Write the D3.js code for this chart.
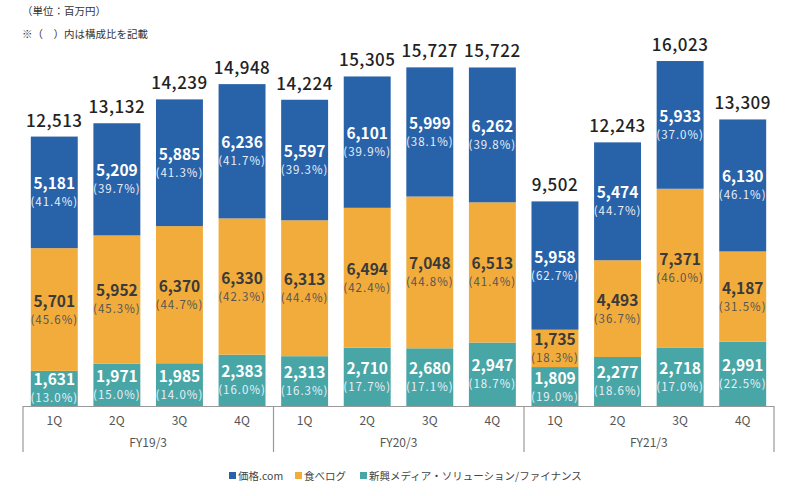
<!DOCTYPE html>
<html><head><meta charset="utf-8">
<script src="https://cdn.jsdelivr.net/npm/d3@7"></script>
<style>
body{margin:0;background:#fff;}
text{font-family:"Noto Sans CJK JP","Noto Sans",sans-serif;}
</style></head>
<body><svg id="c" width="800" height="496"></svg>
<script>
const quarters = ["1Q","2Q","3Q","4Q","1Q","2Q","3Q","4Q","1Q","2Q","3Q","4Q"];
const years = ["FY19/3","FY20/3","FY21/3"];
const kakaku = [5181,5209,5885,6236,5597,6101,5999,6262,5958,5474,5933,6130];
const tabelog = [5701,5952,6370,6330,6313,6494,7048,6513,1735,4493,7371,4187];
const shinko = [1631,1971,1985,2383,2313,2710,2680,2947,1809,2277,2718,2991];
const totals = [12513,13132,14239,14948,14224,15305,15727,15722,9502,12243,16023,13309];
const kakakuPct = ["41.4","39.7","41.3","41.7","39.3","39.9","38.1","39.8","62.7","44.7","37.0","46.1"];
const tabelogPct = ["45.6","45.3","44.7","42.3","44.4","42.4","44.8","41.4","18.3","36.7","46.0","31.5"];
const shinkoPct = ["13.0","15.0","14.0","16.0","16.3","17.7","17.1","18.7","19.0","18.6","17.0","22.5"];
const seriesNames = ["価格.com","食べログ","新興メディア・ソリューション/ファイナンス"];
const colors = ["#2862a8","#f2ac3c","#48a6a6"];

const svg = d3.select("#c");
const idx = d3.range(quarters.length);
const x = d3.scaleBand().domain(idx).range([23,774]).paddingInner(0.25).paddingOuter(0.125);
const y = d3.scaleLinear().domain([0,16023]).range([406,61]);

svg.append("text").attr("x",22).attr("y",15).attr("font-size",10.5).attr("fill","#333").text("（単位：百万円）");
svg.append("text").attr("x",22).attr("y",38).attr("font-size",10.5).attr("fill","#333").text("※（　）内は構成比を記載");

const stackData = idx.map(i=>({i, s:shinko[i], t:tabelog[i], k:kakaku[i]}));
const stack = d3.stack().keys(["s","t","k"])(stackData);
const colorOf = {s:colors[2], t:colors[1], k:colors[0]};
const pctOf = {s:shinkoPct, t:tabelogPct, k:kakakuPct};
const textCol = {s:"#fff", t:"#3a3a3a", k:"#fff"};

stack.forEach(layer=>{
  const key = layer.key;
  const g = svg.append("g");
  g.selectAll("rect").data(layer).join("rect")
    .attr("x",(d,j)=>x(j)).attr("width",x.bandwidth())
    .attr("y",d=>y(d[1])).attr("height",d=>y(d[0])-y(d[1]))
    .attr("fill",colorOf[key]);
  g.selectAll("text.v").data(layer).join("text").attr("class","v")
    .attr("x",(d,j)=>x(j)+x.bandwidth()/2)
    .attr("y",d=>(y(d[0])+y(d[1]))/2 - 3)
    .attr("text-anchor","middle").attr("font-size",15.5).attr("font-weight","bold")
    .attr("fill",textCol[key])
    .text(d=>d3.format(",")(d.data[key]));
  g.selectAll("text.p").data(layer).join("text").attr("class","p")
    .attr("x",(d,j)=>x(j)+x.bandwidth()/2)
    .attr("y",d=>(y(d[0])+y(d[1]))/2 + 14)
    .attr("text-anchor","middle").attr("font-size",11.5).attr("letter-spacing",1)
    .attr("fill",key==="t"?"#555":"#e8eef8")
    .text((d,j)=>"("+pctOf[key][j]+"%)");
});

svg.append("g").selectAll("text").data(idx).join("text")
  .attr("x",i=>x(i)+x.bandwidth()/2).attr("y",i=>y(totals[i])-10)
  .attr("text-anchor","middle").attr("font-size",17).attr("font-weight",500)
  .attr("letter-spacing",0.5).attr("fill","#222")
  .text(i=>d3.format(",")(totals[i]));

// axis box
const ax = svg.append("g").attr("stroke","#999").attr("stroke-width",1.2);
ax.append("line").attr("x1",23).attr("x2",774).attr("y1",406.5).attr("y2",406.5);
[23,273.5,524,774].forEach(px=>ax.append("line").attr("x1",px).attr("x2",px).attr("y1",406).attr("y2",452));

svg.append("g").selectAll("text").data(idx).join("text")
  .attr("x",i=>x(i)+x.bandwidth()/2).attr("y",425)
  .attr("text-anchor","middle").attr("font-size",12).attr("fill","#555")
  .text(i=>quarters[i]);
svg.append("g").selectAll("text").data(years).join("text")
  .attr("x",(d,k)=>(x(k*4)+x(k*4+3)+x.bandwidth())/2).attr("y",447)
  .attr("text-anchor","middle").attr("font-size",12).attr("fill","#555")
  .text(d=>d);

// legend
const lx = [229,295,360];
const lg = svg.append("g");
seriesNames.forEach((n,k)=>{
  lg.append("rect").attr("x",lx[k]).attr("y",472).attr("width",7).attr("height",7).attr("fill",colors[k]);
  lg.append("text").attr("x",lx[k]+9).attr("y",479.5).attr("font-size",10.5).attr("fill","#444").text(n);
});
</script></body></html>
